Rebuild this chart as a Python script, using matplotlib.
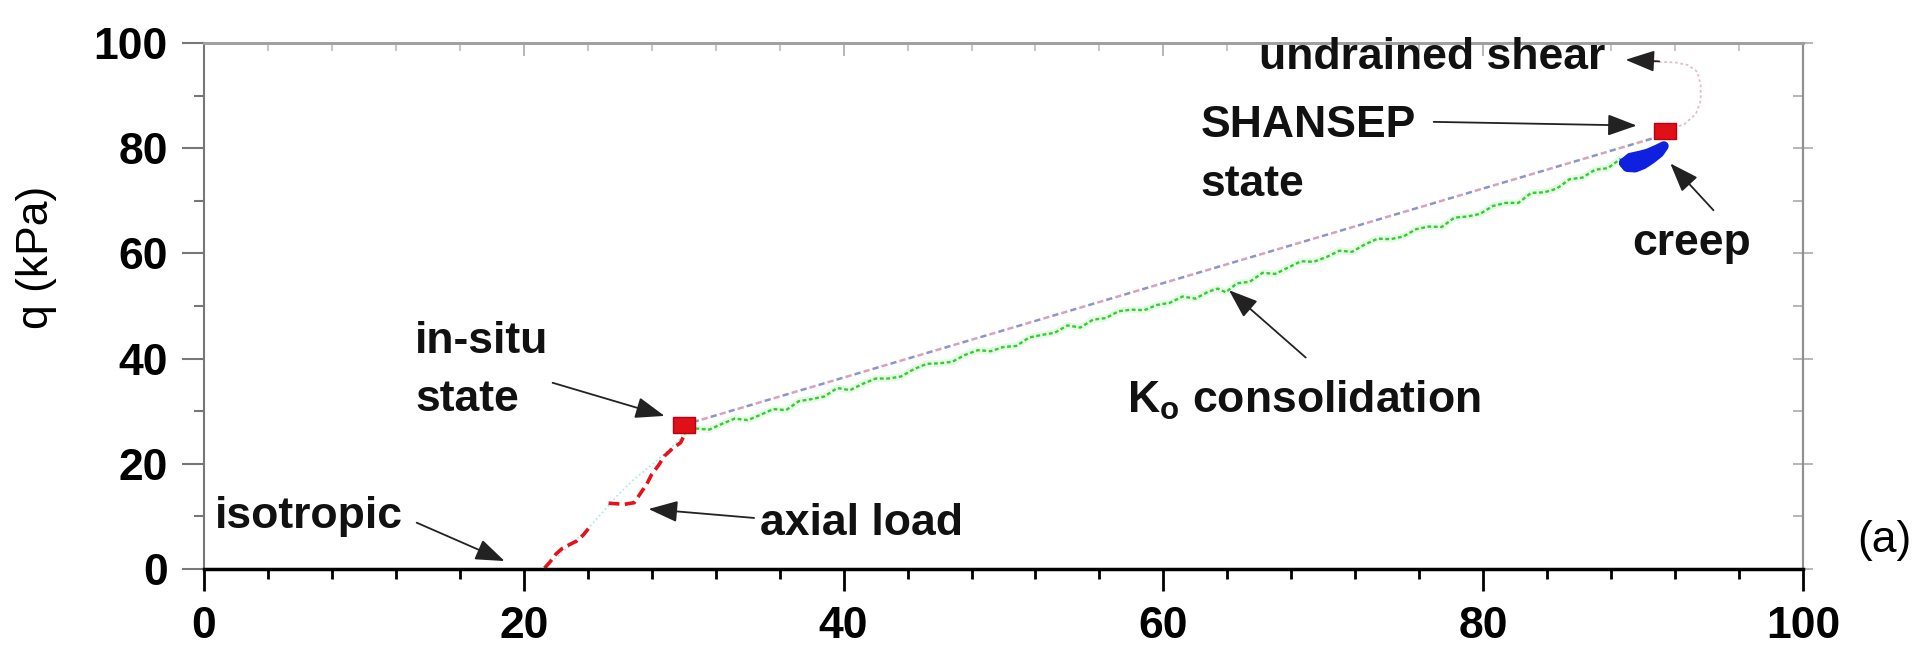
import numpy as np
import matplotlib
matplotlib.use("Agg")
import matplotlib.pyplot as plt
from matplotlib.ticker import MultipleLocator

plt.rcParams['font.family'] = ['Liberation Sans', 'DejaVu Sans']
plt.rcParams['mathtext.fontset'] = 'custom'
plt.rcParams['mathtext.rm'] = 'Liberation Sans:bold'
plt.rcParams['mathtext.bf'] = 'Liberation Sans:bold'
plt.rcParams['mathtext.it'] = 'Liberation Sans:bold'

# stress path data (p', q in kPa)
# isotropic + axial load stage (red), nan = gap in the record
axial_p = [21.3, 21.6, 22.0, 22.4, 22.9, 23.3, 23.7, 24.1, np.nan,
           25.3, 25.8, 26.3, 26.9, 27.3, 27.7, 28.0, 28.4, 28.8, 29.3, 29.8, 30.0]
axial_q = [0.2, 1.2, 2.8, 3.9, 4.7, 5.3, 6.4, 7.9, np.nan,
           12.5, 12.4, 12.3, 12.6, 14.4, 16.2, 18.0, 19.6, 21.5, 22.9, 24.0, 25.2]
# faint trace under the axial load stage
trace_p = [21.3, 22.8, 24.2, 25.0, 25.8, 26.8, 28.0, 29.2, 30.0]
trace_q = [0.2, 4.2, 8.3, 11.0, 13.8, 16.8, 19.8, 23.0, 25.5]

# Ko consolidation (green)
ko_p = [30.0, 30.8, 31.6, 32.4, 33.2, 34.0, 34.8, 35.6, 36.4, 37.2, 38.0, 38.8, 39.6,
        40.4, 41.2, 42.0, 42.8, 43.6, 44.4, 45.2, 46.0, 46.8, 47.6, 48.4, 49.2, 50.0,
        50.8, 51.6, 52.4, 53.2, 54.0, 54.8, 55.6, 56.4, 57.2, 58.0, 58.8, 59.6, 60.4,
        61.2, 62.0, 62.8, 63.4, 63.9, 64.6, 65.4, 66.2, 67.0, 67.8, 68.6, 69.4, 70.2,
        71.0, 71.8, 72.6, 73.4, 74.2, 75.0, 75.8, 76.6, 77.4, 78.2, 79.0, 79.8, 80.6,
        81.4, 82.2, 83.0, 83.8, 84.6, 85.4, 86.2, 87.0, 87.8, 88.6]
ko_q = [25.7, 26.7, 26.5, 27.6, 28.6, 28.3, 29.3, 30.4, 30.2, 31.9, 32.3, 32.8, 34.4,
        34.0, 35.2, 36.2, 36.2, 36.6, 38.0, 39.0, 39.1, 39.4, 40.7, 41.6, 41.4, 42.2,
        42.4, 44.0, 44.5, 44.9, 46.3, 45.9, 47.4, 47.7, 49.0, 49.3, 49.2, 50.2, 50.6,
        51.8, 51.4, 52.7, 53.3, 52.6, 54.3, 54.6, 56.3, 56.1, 57.3, 58.5, 58.4, 59.3,
        60.5, 60.3, 61.7, 62.8, 62.7, 63.2, 64.6, 65.1, 65.0, 66.8, 67.0, 67.5, 69.0,
        69.6, 69.6, 71.5, 71.6, 72.3, 74.1, 74.4, 75.9, 76.2, 78.0]

# straight reference path between the two states
ref_p = [30.0, 91.2]
ref_q = [27.4, 82.4]

# creep (blue)
creep_p = [88.8, 89.0, 89.5, 90.0, 90.5, 91.0, 91.3, 90.9, 90.3, 89.8, 89.2, 88.8]
creep_q = [77.2, 76.4, 76.3, 76.9, 77.9, 79.1, 80.4, 79.8, 79.0, 78.6, 78.2, 77.2]

# undrained shear (faint)
shear_p = [91.6, 92.6, 93.3, 93.6, 93.6, 93.4, 92.8, 92.0, 91.0, 90.2]
shear_q = [83.5, 84.6, 86.5, 89.0, 92.0, 94.5, 95.8, 96.3, 96.4, 96.6]

# in-situ and SHANSEP states
state_p = [30.0, 91.4]
state_q = [27.4, 83.2]

fig = plt.figure(figsize=(19.23, 6.54), dpi=100)
ax = fig.add_axes([0.1061, 0.130, 0.8315, 0.8043])

ax.plot(trace_p, trace_q, color='#a8e6f0', lw=1.2, ls=':')
ax.plot(axial_p, axial_q, color='#e8101a', lw=2.6, ls=(0, (3, 1.5)))
ax.plot(ko_p, ko_q, color='#e6fae6', lw=5, solid_capstyle='round')
ax.plot(ko_p, ko_q, color='#33cc33', lw=1.7, ls=(0, (1.6, 1.1)))
ax.plot(ref_p, ref_q, color='#d8a2bc', lw=1.8, ls=(0, (2.5, 5)))
ax.plot(ref_p, ref_q, color='#8a96c4', lw=1.8, ls=(3.75, (2.5, 5)))
ax.plot(shear_p, shear_q, color='#e6bccb', lw=1.3, ls=(0, (1.5, 1.5)))
ax.fill(creep_p, creep_q, color='#1020e0')
ax.plot(creep_p, creep_q, color='#1020e0', lw=7, solid_capstyle='round')
rect = [(-1.4, -1), (1.4, -1), (1.4, 1), (-1.4, 1), (-1.4, -1)]
ax.plot(state_p, state_q, ls='none', marker=rect, ms=16, color='#e01018',
        markeredgecolor='#c00010', zorder=5)

ax.set_xlim(0, 100)
ax.set_ylim(0, 100)

txt = dict(fontsize=32, fontweight='bold', va='baseline', ha='left', color='#111111')
arr = dict(arrowstyle='-|>,head_length=0.6,head_width=0.22', mutation_scale=30,
           color='#222222', lw=1.3, shrinkA=0, shrinkB=0)

ax.text(66.0, 95.0, 'undrained shear', **txt)
ax.annotate('', xy=(88.9, 96.8), xytext=(91.0, 96.5), arrowprops=arr)
ax.text(62.3, 82.1, 'SHANSEP', **txt)
ax.text(62.3, 71.0, 'state', **txt)
ax.annotate('', xy=(89.6, 84.3), xytext=(76.9, 85.0), arrowprops=arr)
ax.text(89.3, 59.6, 'creep', **txt)
ax.annotate('', xy=(91.7, 77.1), xytext=(94.4, 68.2), arrowprops=arr)
ax.text(13.2, 41.1, 'in-situ', **txt)
ax.text(13.2, 30.1, 'state', **txt)
ax.annotate('', xy=(28.8, 29.1), xytext=(21.8, 35.4), arrowprops=arr)
ax.text(0.7, 7.8, 'isotropic', **txt)
ax.annotate('', xy=(18.8, 1.5), xytext=(13.3, 8.8), arrowprops=arr)
ax.text(34.8, 6.5, 'axial load', **txt)
ax.annotate('', xy=(27.8, 11.4), xytext=(34.4, 9.7), arrowprops=arr)
ax.text(57.7, 29.7, r'K$_\mathbf{o}$ consolidation', **txt)
ax.annotate('', xy=(64.1, 53.0), xytext=(68.9, 40.2), arrowprops=arr)

# axes styling
ax.spines['bottom'].set_color('black')
ax.spines['bottom'].set_linewidth(2.5)
ax.spines['left'].set_color('#777777')
ax.spines['left'].set_linewidth(1.5)
ax.spines['top'].set_color('#a0a0a0')
ax.spines['top'].set_linewidth(2)
ax.spines['right'].set_color('#909090')
ax.spines['right'].set_linewidth(1.5)

ax.set_xticks(range(0, 101, 20))
ax.set_yticks(range(0, 101, 20))
ax.xaxis.set_minor_locator(MultipleLocator(4))
ax.yaxis.set_minor_locator(MultipleLocator(10))
ax.tick_params(axis='x', which='major', direction='out', length=16, width=2,
               color='black', pad=11)
ax.tick_params(axis='x', which='minor', direction='out', length=7, width=2, color='black')
ax.tick_params(axis='y', which='major', direction='out', length=16, width=1.5,
               color='#777777', pad=10)
ax.tick_params(axis='y', which='minor', direction='out', length=7, width=1.5, color='#777777')
for lab in ax.get_xticklabels() + ax.get_yticklabels():
    lab.set_fontsize(32)
    lab.set_fontweight('bold')

top = ax.secondary_xaxis('top')
top.set_xticks(range(0, 101, 20))
top.xaxis.set_minor_locator(MultipleLocator(4))
top.tick_params(which='major', direction='in', length=9, width=1.2, color='#aaaaaa', labeltop=False)
top.tick_params(which='minor', direction='in', length=6, width=1.2, color='#bbbbbb')
top.spines['top'].set_color('#a0a0a0')
top.spines['top'].set_linewidth(2)

right = ax.secondary_yaxis('right')
right.set_yticks(range(0, 101, 20))
right.yaxis.set_minor_locator(MultipleLocator(10))
right.tick_params(which='major', direction='inout', length=14, width=1.2, color='#aaaaaa', labelright=False)
right.tick_params(which='minor', direction='in', length=7, width=1.2, color='#aaaaaa')
right.spines['right'].set_color('#909090')
right.spines['right'].set_linewidth(1.5)

fig.text(0.019, 0.607, 'q (kPa)', rotation=90, ha='center', va='center', fontsize=32)
fig.text(0.966, 0.156, '(a)', ha='left', va='baseline', fontsize=32)

fig.savefig('out.png', dpi=100)
